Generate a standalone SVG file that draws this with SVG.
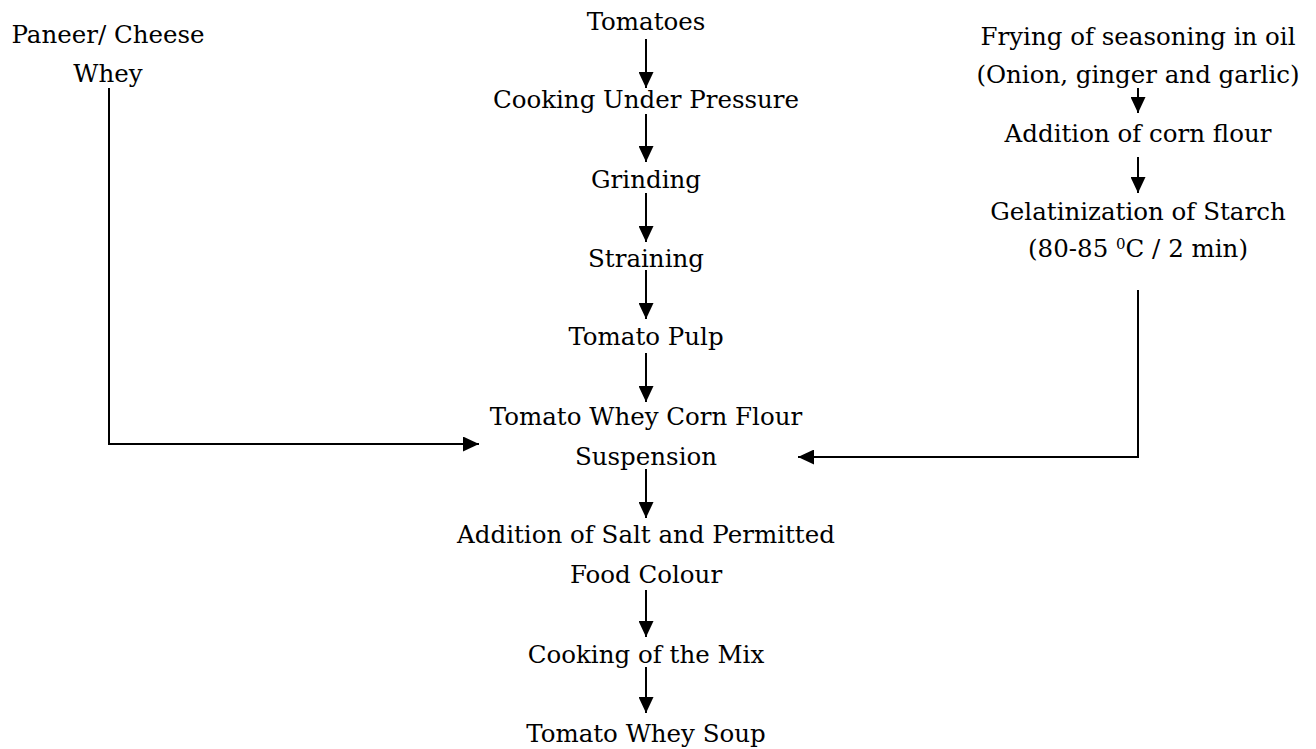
<svg xmlns="http://www.w3.org/2000/svg" width="1316" height="749" viewBox="0 0 1316 749">
<style>
  text { font-family: "DejaVu Serif", "Liberation Serif", serif; font-size: 24.5px; fill: #000; text-anchor: middle; }
  .conn { fill: none; stroke: #000; stroke-width: 2; }
  .sup { font-size: 15px; }
</style>
<defs>
  <marker id="ah" markerUnits="userSpaceOnUse" markerWidth="16" markerHeight="15" refX="16" refY="7.5" orient="auto">
    <path d="M0,0 L16,7.5 L0,15 z" fill="#000"/>
  </marker>
</defs>
<rect width="1316" height="749" fill="#fff"/>
<g id="connectors">
  <line class="conn" x1="646" y1="39" x2="646" y2="88" marker-end="url(#ah)"/>
  <line class="conn" x1="646" y1="114" x2="646" y2="162" marker-end="url(#ah)"/>
  <line class="conn" x1="646" y1="193" x2="646" y2="242" marker-end="url(#ah)"/>
  <line class="conn" x1="646" y1="270" x2="646" y2="319" marker-end="url(#ah)"/>
  <line class="conn" x1="646" y1="353" x2="646" y2="402" marker-end="url(#ah)"/>
  <line class="conn" x1="646" y1="469" x2="646" y2="518" marker-end="url(#ah)"/>
  <line class="conn" x1="646" y1="590" x2="646" y2="637" marker-end="url(#ah)"/>
  <line class="conn" x1="646" y1="667" x2="646" y2="713" marker-end="url(#ah)"/>
  <line class="conn" x1="1138" y1="88" x2="1138" y2="113" marker-end="url(#ah)"/>
  <line class="conn" x1="1138" y1="157" x2="1138" y2="193" marker-end="url(#ah)"/>
  <path class="conn" d="M1138,290 V457 H798" marker-end="url(#ah)"/>
  <path class="conn" d="M109,88 V444 H479" marker-end="url(#ah)"/>
</g>
<g id="whey"><text x="108" y="43">Paneer/ Cheese</text><text x="108" y="82">Whey</text></g>
<g id="tomatoes"><text x="646" y="30">Tomatoes</text></g>
<g id="cooking-pressure"><text x="646" y="108">Cooking Under Pressure</text></g>
<g id="grinding"><text x="646" y="188">Grinding</text></g>
<g id="straining"><text x="646" y="267">Straining</text></g>
<g id="pulp"><text x="646" y="345">Tomato Pulp</text></g>
<g id="suspension"><text x="646" y="425">Tomato Whey Corn Flour</text><text x="646" y="465">Suspension</text></g>
<g id="salt"><text x="646" y="543">Addition of Salt and Permitted</text><text x="646" y="583">Food Colour</text></g>
<g id="cooking-mix"><text x="646" y="663">Cooking of the Mix</text></g>
<g id="soup"><text x="646" y="742">Tomato Whey Soup</text></g>
<g id="frying"><text x="1138" y="45">Frying of seasoning in oil</text><text x="1138" y="83">(Onion, ginger and garlic)</text></g>
<g id="cornflour"><text x="1138" y="142">Addition of corn flour</text></g>
<g id="gelatinization"><text x="1138" y="220">Gelatinization of Starch</text><text x="1138" y="257">(80-85 <tspan class="sup" dy="-8">0</tspan><tspan dy="8">C / 2 min)</tspan></text></g>
</svg>
